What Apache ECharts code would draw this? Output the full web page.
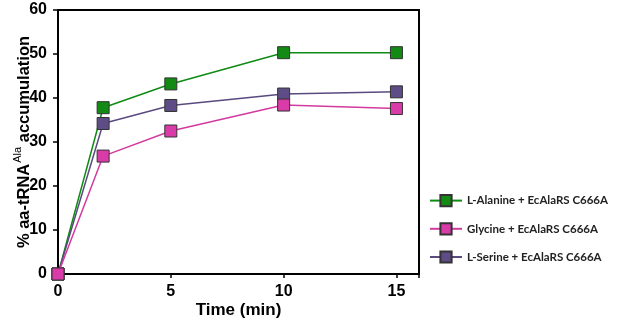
<!DOCTYPE html>
<html>
<head>
<meta charset="utf-8">
<script src="https://cdn.jsdelivr.net/npm/echarts@6/dist/echarts.min.js"></script>
<style>
  html, body { margin: 0; padding: 0; background: #fff; }
  #chart { width: 617px; height: 328px; }
</style>
</head>
<body>
<div id="chart"></div>
<script>
// time points (min)
const times = [0, 2, 5, 10, 15];

// % aa-tRNA accumulation per substrate
const alanine = [0, 37.8, 43.2, 50.3, 50.3];
const glycine = [0, 26.8, 32.5, 38.4, 37.6];
const serine = [0, 34.2, 38.3, 40.9, 41.4];

const seriesNames = [
  'L-Alanine + EcAlaRS C666A',
  'Glycine + EcAlaRS C666A',
  'L-Serine + EcAlaRS C666A',
];

const lineColors = ['#0f8a12', '#d23a9f', '#5a4a80'];
const fillColors = ['#138a13', '#d93ca8', '#5e4c86'];
const zOrder = [2, 4, 3];

const chart = echarts.init(document.getElementById('chart'));

const makeSeries = (name, data, i) => ({
  name,
  type: 'line',
  data: times.map((t, k) => [t, data[k]]),
  symbol: 'rect',
  symbolSize: 12,
  lineStyle: { color: lineColors[i], width: 1.5 },
  itemStyle: {
    color: fillColors[i],
    borderColor: '#333',
    borderWidth: 1,
  },
  emphasis: { disabled: true },
  z: zOrder[i],
});

const boldArial = {
  fontFamily: 'Arial, Liberation Sans',
  fontWeight: 'bold',
  color: '#000',
};

chart.setOption({
  animation: false,
  grid: {
    left: 58,
    right: 198,
    top: 10,
    bottom: 54,
    outerBoundsMode: 'none',
    show: true,
    borderColor: '#000',
    borderWidth: 2,
  },
  legend: {
    orient: 'vertical',
    left: 424,
    top: 189,
    itemGap: 15,
    itemWidth: 32,
    itemHeight: 14,
    textStyle: {
      fontFamily: 'Lato',
      fontWeight: 'bold',
      fontSize: 11.5,
      color: '#222',
    },
    data: seriesNames,
  },
  xAxis: {
    type: 'value',
    min: 0,
    max: 16,
    interval: 5,
    name: 'Time (min)',
    nameLocation: 'middle',
    nameGap: 28,
    nameMoveOverlap: false,
    nameTextStyle: { ...boldArial, fontSize: 17 },
    axisLine: { lineStyle: { color: '#000', width: 2 } },
    axisTick: { length: 4, lineStyle: { color: '#000', width: 1.5 } },
    splitLine: { show: false },
    axisLabel: {
      ...boldArial,
      fontSize: 16,
      margin: 10,
      formatter: (v) => (v % 5 === 0 ? String(v) : ''),
    },
  },
  yAxis: {
    type: 'value',
    min: 0,
    max: 60,
    interval: 10,
    name: '{a|% aa-tRNA}{sup|Ala}{a| accumulation}',
    nameLocation: 'middle',
    nameGap: 22,
    nameMoveOverlap: false,
    nameTextStyle: {
      rich: {
        a: { ...boldArial, fontSize: 16.5 },
        sup: {
          fontFamily: 'Arial, Liberation Sans',
          fontSize: 11,
          color: '#000',
          padding: [0, 0, 13, 1],
        },
      },
    },
    axisLine: { show: true, lineStyle: { color: '#000', width: 2 } },
    axisTick: { show: true, length: 5, lineStyle: { color: '#000', width: 1.5 } },
    splitLine: { show: false },
    axisLabel: { ...boldArial, fontSize: 16, margin: 11 },
  },
  series: [
    makeSeries(seriesNames[0], alanine, 0),
    makeSeries(seriesNames[1], glycine, 1),
    makeSeries(seriesNames[2], serine, 2),
  ],
});
</script>
</body>
</html>
